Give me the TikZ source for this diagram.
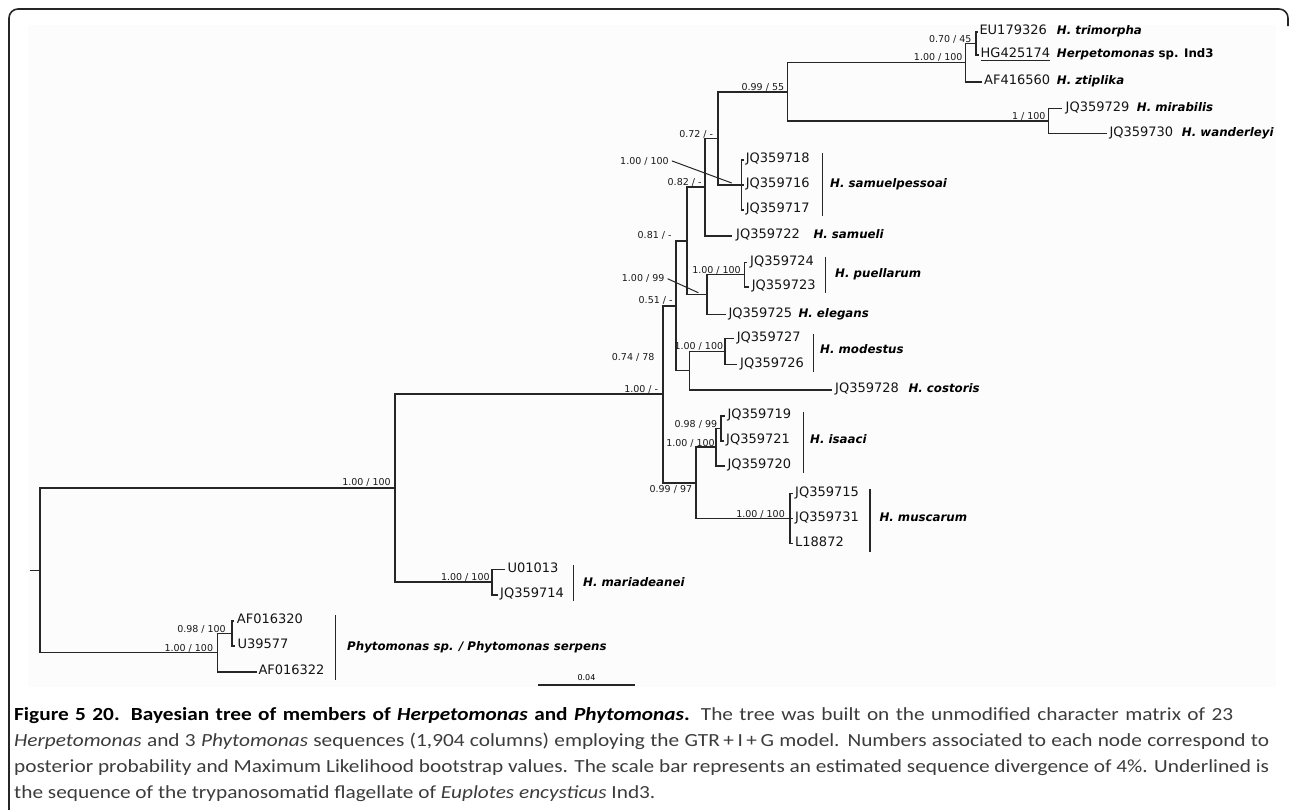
\documentclass[tikz,border=0pt]{standalone}
\usepackage{fontspec}
\setmainfont{DejaVu Sans}
\newfontfamily\capfont{Carlito}
\usepackage{graphicx}
\usetikzlibrary{calc}
\definecolor{ln}{HTML}{262626}
\definecolor{bgc}{HTML}{FCFCFC}
\definecolor{captxt}{HTML}{3C3C3C}
\newlength\fitw
\newlength\targw
\newcommand\capline[2]{\pgfmathsetlength\targw{#1/\capk}\scalebox{\capk}[1]{\makebox[\targw][s]{#2}}}
\newcommand\linethree{posterior probability and Maximum Likelihood bootstrap values. The scale bar represents an estimated sequence divergence of 4\%. Underlined is}
\begin{document}
\settowidth\fitw{\capfont\fontsize{18.5}{22}\selectfont\linethree}%
\pgfmathsetmacro\capk{1255/\fitw}%
\begin{tikzpicture}[x=1pt,y=-1pt,
  br/.style={draw=ln, line width=1.6pt},
  grpbar/.style={draw=ln, line width=1.5pt},
  suppv/.style={font=\fontsize{9.5}{11}\selectfont, inner sep=0pt, anchor=base east, text=black!90},
  supl/.style={font=\fontsize{9.5}{11}\selectfont, inner sep=0pt, anchor=base west, text=black!90},
  tipl/.style={font=\fontsize{13}{15}\selectfont, inner sep=0pt, anchor=mid west, text=black!92},
  spl/.style={font=\fontsize{11.8}{14}\selectfont\bfseries\itshape, inner sep=0pt, anchor=mid west},
  capl/.style={font=\capfont\fontsize{18.5}{22}\selectfont, inner sep=0pt, anchor=base west, text=captxt},
  frame/.style={draw=black!85, line width=1.6pt, rounded corners=9pt}]
\useasboundingbox (0,0) rectangle (1290,809);
\fill[bgc] (28,25) rectangle (1276,687);
\draw[frame] (9,812) -- (9,9) -- (1288,9) -- (1288,26);

% internal nodes
\coordinate (r0) at (29.5,570.3);
\coordinate (root) at (40,570.3);
\coordinate (H) at (394.7,488);
\coordinate (Mar) at (491.8,582.15);
\coordinate (Phy) at (217.3,652.6);
\coordinate (Phy2) at (231.7,633.5);
\coordinate (F) at (662.7,394.2);
\coordinate (E) at (676,305.8);
\coordinate (D) at (686.7,241);
\coordinate (C) at (705,187.2);
\coordinate (B) at (717.7,138.4);
\coordinate (A) at (787.3,91.7);
\coordinate (A1) at (965.5,62.5);
\coordinate (A2) at (975.7,43.35);
\coordinate (W) at (1048.3,120.8);
\coordinate (S) at (741.5,185);
\coordinate (PE) at (706.7,294.6);
\coordinate (Pu) at (744.3,274.5);
\coordinate (MC) at (689.3,370.65);
\coordinate (Mo) at (725,351.3);
\coordinate (G) at (695.7,482.8);
\coordinate (I) at (716,447.25);
\coordinate (I2) at (721,428.5);
\coordinate (Mu) at (790,518.3);

% tips: branch ends and labels
\foreach \n/\ex/\lx/\y/\t in {
  EU/977.5/979.3/31.7/EU179326,
  AF560/981.7/984/81.7/AF416560,
  Q729/1061.7/1065.5/108.3/JQ359729,
  Q730/1106.7/1109.3/133.3/JQ359730,
  Q718/744/745.7/160/JQ359718,
  Q716/744/745.7/185/JQ359716,
  Q717/744/745.7/210/JQ359717,
  Q722/731.7/736/236/JQ359722,
  Q724/747/750/262.3/JQ359724,
  Q723/748.5/751.7/286.7/JQ359723,
  Q725/726/728.3/314.3/JQ359725,
  Q727/734/736.7/338.3/JQ359727,
  Q726/737/740/364.3/JQ359726,
  Q728/831.7/835/390/JQ359728,
  Q719/724.5/727.3/416/JQ359719,
  Q721/723.5/726/441/JQ359721,
  Q720/725/727.3/466/JQ359720,
  Q715/792.5/795/493.3/JQ359715,
  Q731/792.5/795/518.3/JQ359731,
  L872/792.5/795/543.3/L18872,
  U013/505/507.3/569.3/U01013,
  Q714/497.5/500/595/JQ359714,
  AF320/234/236.7/621/AF016320,
  U577/234.5/237.3/646/U39577,
  AF322/256.7/258.3/671.7/AF016322}{
  \coordinate (t\n) at (\ex,\y);
  \node[tipl] (n\n) at (\lx,\y) {\t};
}
\coordinate (tHG) at (978.5,55);
\node[tipl] (nHG) at (980.5,55) {HG425174};
\draw[black!85, line width=1pt] ([yshift=-3pt]nHG.base west) -- ([yshift=-3pt]nHG.base east);

% branches: one path per internal node
\draw[br] (r0) -- (root);
\foreach \p/\a/\b in {root/H/Phy, H/F/Mar, Mar/tU013/tQ714,
  Phy/Phy2/tAF322, Phy2/tAF320/tU577,
  F/E/G, E/D/MC, D/C/PE, C/B/tQ722, B/A/S,
  A/A1/W, A1/A2/tAF560, A2/tEU/tHG, W/tQ729/tQ730,
  S/tQ718/tQ717, PE/Pu/tQ725, Pu/tQ724/tQ723,
  MC/Mo/tQ728, Mo/tQ727/tQ726, G/I/Mu, I/I2/tQ720,
  I2/tQ719/tQ721, Mu/tQ715/tL872}
  \draw[br] (\a) -| (\p) |- (\b);
\draw[br] (S) -- (tQ716);
\draw[br] (Mu) -- (tQ731);

% support values
\node[suppv] (sA2) at (971.7,42) {0.70 / 45};
\node[suppv] (sA1) at (962.7,60.5) {1.00 / 100};
\node[suppv] (sW) at (1045.7,119) {1 / 100};
\node[suppv] (sA) at (784.3,90) {0.99 / 55};
\node[suppv] (sB) at (713.3,137) {0.72 / -};
\node[supl] (sS) at (620,164) {1.00 / 100};
\coordinate (sSend) at (731.7,183);
\draw[ln, line width=1pt] ([xshift=3pt]sS.east) -- (sSend);
\node[suppv] (sC) at (701.7,185.5) {0.82 / -};
\node[suppv] (sD) at (671.7,238.5) {0.81 / -};
\node[suppv] (sPu) at (741,273) {1.00 / 100};
\node[supl] (sPE) at (621.7,281.8) {1.00 / 99};
\coordinate (sPEend) at (698.3,292.7);
\draw[ln, line width=1pt] ([xshift=3pt]sPE.east) -- (sPEend);
\node[suppv] (sE) at (672.7,303.5) {0.51 / -};
\node[supl] (sMC) at (611.7,360.2) {0.74 / 78};
\node[suppv] (sMo) at (723.3,349) {1.00 / 100};
\node[suppv] (sF) at (658.3,392) {1.00 / -};
\node[suppv] (sI2) at (717.3,427) {0.98 / 99};
\node[suppv] (sI) at (715,446) {1.00 / 100};
\node[suppv] (sG) at (692.3,492.5) {0.99 / 97};
\node[suppv] (sMu) at (785,517) {1.00 / 100};
\node[suppv] (sH) at (391,485.5) {1.00 / 100};
\node[suppv] (sMar) at (489.8,580) {1.00 / 100};
\node[suppv] (sPhy2) at (226,632) {0.98 / 100};
\node[suppv] (sPhy) at (213.3,651) {1.00 / 100};

% species names
\node[spl] (lTri) at (1056.7,31.7) {H. trimorpha};
\node[spl] (lInd) at (1056.7,55) {Herpetomonas \upshape sp. Ind3};
\node[spl] (lZti) at (1056.7,81.7) {H. ztiplika};
\node[spl] (lMir) at (1136.7,108.3) {H. mirabilis};
\node[spl] (lWan) at (1181.7,133.3) {H. wanderleyi};
\node[spl] (lSp) at (830,185) {H. samuelpessoai};
\node[spl] (lSa) at (813.3,236) {H. samueli};
\node[spl] (lPu) at (835,275) {H. puellarum};
\node[spl] (lEl) at (798.3,314.3) {H. elegans};
\node[spl] (lMo) at (820,351) {H. modestus};
\node[spl] (lCo) at (908.3,390) {H. costoris};
\node[spl] (lIs) at (810,441) {H. isaaci};
\node[spl] (lMu) at (879.3,519) {H. muscarum};
\node[spl] (lMa) at (583,583.3) {H. mariadeanei};
\node[spl] (lPh) at (347,647.7) {Phytomonas sp. / Phytomonas serpens};

% group bars
\foreach \n/\x/\ya/\yb in {bSp/822.7/153.3/216, bPu/825.7/256.7/292.7, bMo/813.3/334/371.7,
  bIs/803.3/411.7/472.7, bMu/870/489.3/551.7, bMa/573.5/565/600.7, bPh/335.5/615/680}{
  \coordinate (\n a) at (\x,\ya);
  \coordinate (\n b) at (\x,\yb);
  \draw[grpbar] (\n a) -- (\n b);
}

% scale bar
\coordinate (scA) at (538,685);
\coordinate (scB) at (635,685);
\draw[ln, line width=1.2pt] (scA) -- (scB);
\node[font=\fontsize{8}{9}\selectfont, inner sep=0pt, anchor=base] (scL) at (586.5,680) {0.04};

% caption
\node[capl] (cap1) at (14,720) {\capline{1219}{{\color{black}\bfseries Figure 5 20. Bayesian tree of members of \textit{Herpetomonas} and \textit{Phytomonas}.} The tree was built on the unmodified character matrix of 23}};
\node[capl] (cap2) at (14,746) {\capline{1255}{\textit{Herpetomonas} and 3 \textit{Phytomonas} sequences (1,904 columns) employing the GTR\,+\,I\,+\,G model. Numbers associated to each node correspond to}};
\node[capl] (cap3) at (14,772) {\scalebox{\capk}[1]{\linethree}};
\node[capl] (cap4) at (14,798) {\scalebox{\capk}[1]{the sequence of the trypanosomatid flagellate of \textit{Euplotes encysticus} Ind3.}};
\end{tikzpicture}
\end{document}
